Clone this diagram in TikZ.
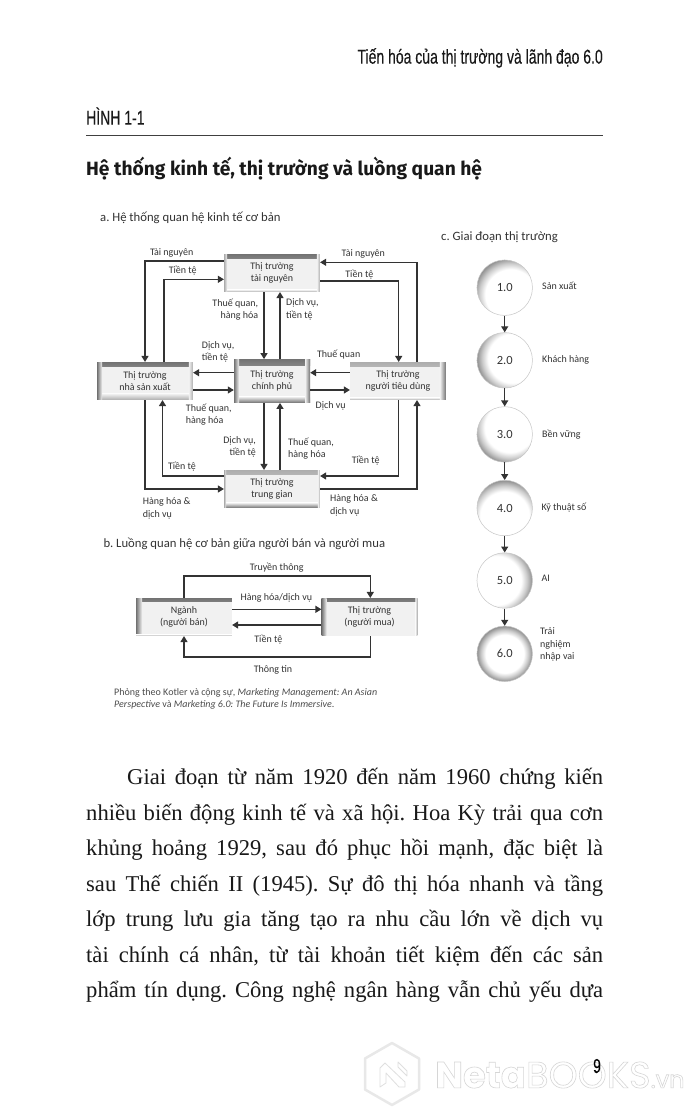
\documentclass[tikz,border=0pt]{standalone}
\usepackage{fontspec}
\setmainfont{Carlito}
\newfontfamily\condfont[FakeStretch=0.70,FakeBold=0.15]{Liberation Sans}
\newfontfamily\titlefont{Fira Sans}
\newfontfamily\bodyfont{Liberation Serif}
\newfontfamily\markfont{Poppins}
\usetikzlibrary{arrows.meta,calc}
\definecolor{inkgray}{gray}{0.2}
\definecolor{boxdark}{gray}{0.45}
\definecolor{boxmid}{gray}{0.68}
\definecolor{boxbase}{gray}{0.945}
\pgfdeclareradialshading{rimlit}{\pgfpoint{0bp}{0bp}}{color(0bp)=(white); color(17bp)=(white); color(21bp)=(gray!40); color(25bp)=(gray!90); color(50bp)=(gray!90)}
\newcommand{\etop}[2][boxdark]{\shade[top color=#1,bottom color=boxbase] (path picture bounding box.north west) rectangle ([yshift=-#2pt]path picture bounding box.north east);}
\newcommand{\ebot}[2][boxdark]{\shade[bottom color=#1,top color=boxbase] (path picture bounding box.south west) rectangle ([yshift=#2pt]path picture bounding box.south east);}
\newcommand{\eleft}[2][boxdark]{\shade[left color=#1,right color=boxbase] (path picture bounding box.north west) rectangle ([xshift=#2pt]path picture bounding box.south west);}
\newcommand{\eright}[2][boxdark]{\shade[right color=#1,left color=boxbase] (path picture bounding box.north east) rectangle ([xshift=-#2pt]path picture bounding box.south east);}
\tikzset{
  x=1pt,y=-1pt,
  flow/.style={draw=inkgray,line width=1.2pt,-{Triangle[length=6pt,width=7pt]}},
  mbox/.style={rectangle,fill=boxbase,inner sep=0pt,minimum width=95.8pt,minimum height=37.7pt,align=center,text=inkgray,font=\fontsize{10}{12.3}\selectfont},
  lab/.style={inner sep=0pt,text=inkgray,font=\fontsize{10}{12.3}\selectfont},
  labl/.style={lab,anchor=west,align=left},
  labr/.style={lab,anchor=east,align=right},
  heading/.style={inner sep=0pt,anchor=west,text=inkgray,font=\fontsize{12.7}{15}\selectfont},
  stage/.style 2 args={circle,inner sep=0pt,minimum size=55.5pt,draw=gray!45,line width=.5pt,text=black!80,font=\fontsize{12.5}{14}\selectfont,
     path picture={\shade[shading=rimlit] ([xshift=#1pt,yshift=#2pt]path picture bounding box.center) circle ({28+sqrt((#1)*(#1)+(#2)*(#2))});}},
  bodyline/.style={inner sep=0pt,anchor=base west,text=black!90,font=\bodyfont\fontsize{22.6}{26}\selectfont},
  wm/.style={inner sep=0pt,anchor=west,font=\markfont\fontsize{37}{40}\selectfont},
}
\begin{document}
\begin{tikzpicture}
\frenchspacing
\useasboundingbox (0,0) rectangle (700,1119);
\fill[white] (0,0) rectangle (700,1119);

% watermark
\draw[gray!18,line width=2.5pt,line join=round,fill=white] (392,1043)--(419,1058.5)--(419,1089.5)--(392,1105)--(365,1089.5)--(365,1058.5)--cycle;
\draw[gray!25,line width=.8pt,line join=round] (380,1087)--(380,1068)--(385,1063)--(405,1082)--(405,1087)--(399,1087)--(386,1073)--(386,1083)--cycle (398,1062)--(407,1071)--(407,1076)--(398,1067)--cycle;
\node[wm] (wmtext) at (435,1075) {\special{pdf:code q 1 Tr 0.6 w 0.84 G}\textbf{Neta}BOOKS{\fontsize{24}{28}\selectfont .vn}\special{pdf:code Q}};

% page furniture
\node[inner sep=0pt,anchor=east,text=black!90,font=\condfont\fontsize{20}{24}\selectfont] (runhead) at (603,58) {Tiến hóa của thị trường và lãnh đạo 6.0};
\node[inner sep=0pt,anchor=west,text=black!90,font=\condfont\fontsize{20}{24}\selectfont] (figno) at (86,116) {HÌNH 1-1};
\draw[black!75,line width=1pt] (86,135) -- (603,135);
\node[inner sep=0pt,anchor=west,text=black!90,font=\titlefont\bfseries\fontsize{19.2}{23}\selectfont] (figtitle) at (86,169) {Hệ thống kinh tế, thị trường và luồng quan hệ};

% part a
\node[heading] (hA) at (100,218.3) {a. Hệ thống quan hệ kinh tế cơ bản};
\node[mbox,path picture={\etop{4.5}\ebot[boxmid]{2}\eleft[boxmid]{3}\eright[boxmid]{3}}] (res) at (272,273) {Thị trường\\tài nguyên};
\node[mbox,minimum width=76pt,minimum height=43.4pt,path picture={\etop{6}\ebot{6}\eleft{5}\eright{5}}] (gov) at (272,381) {Thị trường\\chính phủ};
\node[mbox,path picture={\etop{4}\ebot[boxmid]{6}\eleft{5}\eright[boxmid]{4}}] (prod) at (145,381) {Thị trường\\nhà sản xuất};
\node[mbox,path picture={\etop[boxmid]{4}\ebot[boxmid]{2}\eright{6}}] (cons) at (398,381) {Thị trường\\người tiêu dùng};
\node[mbox,path picture={\etop[boxmid]{4}\ebot{5}\eleft[boxmid]{2}\eright[boxmid]{2}}] (mid) at (272,489) {Thị trường\\trung gian};

\draw[flow] ([yshift=12pt]res.west) -| (prod.north);
\draw[flow] ([xshift=19pt]prod.north) |- ([yshift=-6.3pt]res.west);
\draw[flow] ([xshift=19pt]cons.north) |- ([yshift=10.7pt]res.east);
\draw[flow] ([yshift=-8pt]res.east) -| ([xshift=.7pt]cons.north);
\draw[flow] ([xshift=-8pt]res.south) -- ([xshift=-8pt]gov.north);
\draw[flow] ([xshift=8pt]gov.north) -- ([xshift=8pt]res.south);
\draw[flow] ([yshift=8.3pt]gov.west) -- ([yshift=8.3pt]prod.east);
\draw[flow] ([yshift=-9pt]prod.east) -- ([yshift=-9pt]gov.west);
\draw[flow] ([yshift=8.3pt]cons.west) -- ([yshift=8.3pt]gov.east);
\draw[flow] ([yshift=-9pt]gov.east) -- ([yshift=-9pt]cons.west);
\draw[flow] ([xshift=-8pt]gov.south) -- ([xshift=-8pt]mid.north);
\draw[flow] ([xshift=8pt]mid.north) -- ([xshift=8pt]gov.south);
\draw[flow] (prod.south) |- (mid.west);
\draw[flow] ([yshift=13pt]mid.west) -| ([xshift=17.5pt]prod.south);
\draw[flow] ([xshift=.7pt]cons.south) |- ([yshift=13pt]mid.east);
\draw[flow] (mid.east) -| ([xshift=19pt]cons.south);

\node[lab] (a1) at (171.7,253.3) {Tài nguyên};
\node[lab] (a2) at (182.7,271) {Tiền tệ};
\node[lab] (a3) at (363.3,253.7) {Tài nguyên};
\node[lab] (a4) at (359.3,274.3) {Tiền tệ};
\node[labr] (a5) at (258.3,309.5) {Thuế quan,\\hàng hóa};
\node[labl] (a6) at (286,309.5) {Dịch vụ,\\tiền tệ};
\node[labl] (a7) at (201.7,352) {Dịch vụ,\\tiền tệ};
\node[lab] (a8) at (338.7,354.3) {Thuế quan};
\node[labl] (a9) at (185.7,414.5) {Thuế quan,\\hàng hóa};
\node[lab] (a10) at (330.7,406) {Dịch vụ};
\node[labr] (a11) at (256,447) {Dịch vụ,\\tiền tệ};
\node[labl] (a12) at (288,448.7) {Thuế quan,\\hàng hóa};
\node[lab] (a13) at (182,466.3) {Tiền tệ};
\node[lab] (a14) at (365.7,460.3) {Tiền tệ};
\node[labl] (a15) at (142.7,508.3) {Hàng hóa \&\\dịch vụ};
\node[labl] (a16) at (330,505.5) {Hàng hóa \&\\dịch vụ};

% part b
\node[heading] (hB) at (103.3,544) {b. Luồng quan hệ cơ bản giữa người bán và người mua};
\node[mbox,path picture={\etop{3.5}\eleft{6}\ebot[boxmid]{1.5}}] (sell) at (184,617) {Ngành\\(người bán)};
\node[mbox,path picture={\etop{3.5}\eleft{5}\eright[boxmid]{2}}] (buy) at (369.5,617) {Thị trường\\(người mua)};
\draw[flow] (sell.north) |- (276,576) -| ([xshift=.8pt]buy.north);
\draw[flow] ([yshift=7.7pt]sell.east) -- ([yshift=7.7pt]buy.west);
\draw[flow] ([yshift=-8pt]buy.west) -- ([yshift=-8pt]sell.east);
\draw[flow] ([xshift=.8pt]buy.south) |- (276,657) -| (sell.south);
\node[lab] (b1) at (276.7,567.7) {Truyền thông};
\node[lab] (b2) at (276.3,597.7) {Hàng hóa/dịch vụ};
\node[lab] (b3) at (268.3,639.7) {Tiền tệ};
\node[lab] (b4) at (273,670.3) {Thông tin};
\node[labl,text=black!70] (caption) at (114,698.7) {Phỏng theo Kotler và cộng sự, \textit{Marketing Management: An Asian}\\\textit{Perspective} và \textit{Marketing 6.0: The Future Is Immersive}.};

% part c
\node[heading] (hC) at (441,236.7) {c. Giai đoạn thị trường};
\node[stage={6}{-7}] (s1) at (504.7,287.7) {1.0};
\node[stage={8}{2}] (s2) at (504.7,360.3) {2.0};
\node[stage={5}{7}] (s3) at (504.7,434.4) {3.0};
\node[stage={0}{-8}] (s4) at (504.7,508) {4.0};
\node[stage={-8}{0}] (s5) at (504.7,580.5) {5.0};
\node[stage={0}{0}] (s6) at (504.7,653.8) {6.0};
\foreach \p/\q in {s1/s2,s2/s3,s3/s4,s4/s5,s5/s6}{\draw[flow] (\p.south) -- (\q.north);}
\node[labl] (c1) at (542,285.7) {Sản xuất};
\node[labl] (c2) at (542,360.3) {Khách hàng};
\node[labl] (c3) at (542,434.7) {Bền vững};
\node[labl] (c4) at (541.3,508) {Kỹ thuật số};
\node[labl] (c5) at (541.3,578.3) {AI};
\node[labl] (c6) at (540,644.5) {Trải\\nghiệm\\nhập vai};

% body
\node[bodyline] (l1) at (127,784) {\makebox[476pt][s]{Giai đoạn từ năm 1920 đến năm 1960 chứng kiến}};
\node[bodyline] (l2) at (86,820) {\makebox[517pt][s]{nhiều biến động kinh tế và xã hội. Hoa Kỳ trải qua cơn}};
\node[bodyline] (l3) at (86,855.5) {\makebox[517pt][s]{khủng hoảng 1929, sau đó phục hồi mạnh, đặc biệt là}};
\node[bodyline] (l4) at (86,891) {\makebox[517pt][s]{sau Thế chiến II (1945). Sự đô thị hóa nhanh và tầng}};
\node[bodyline] (l5) at (86,926.5) {\makebox[517pt][s]{lớp trung lưu gia tăng tạo ra nhu cầu lớn về dịch vụ}};
\node[bodyline] (l6) at (86,962) {\makebox[517pt][s]{tài chính cá nhân, từ tài khoản tiết kiệm đến các sản}};
\node[bodyline] (l7) at (86,997.5) {\makebox[517pt][s]{phẩm tín dụng. Công nghệ ngân hàng vẫn chủ yếu dựa}};
\node[inner sep=0pt,text=black,font=\condfont\fontsize{20}{24}\selectfont] (pageno) at (597,1066) {9};
\end{tikzpicture}
\end{document}
